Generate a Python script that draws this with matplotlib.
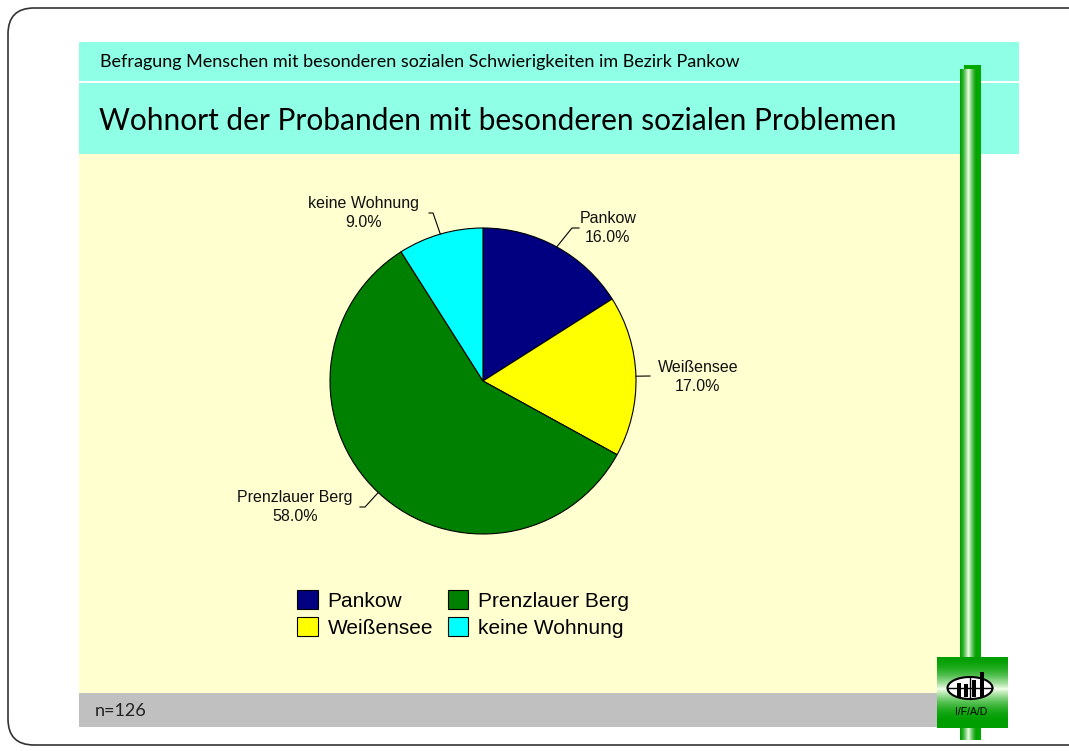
import matplotlib
matplotlib.use('Agg')
import matplotlib.pyplot as plt
import numpy as np
from matplotlib.patches import Rectangle, FancyBboxPatch, Ellipse

# data
labels = ['Pankow', 'Weißensee', 'Prenzlauer Berg', 'keine Wohnung']
shares = [16.0, 17.0, 58.0, 9.0]
colors = ['#000080', '#FFFF00', '#008000', '#00FFFF']
header = 'Befragung Menschen mit besonderen sozialen Schwierigkeiten im Bezirk Pankow'
title = 'Wohnort der Probanden mit besonderen sozialen Problemen'
footer = 'n=126'

W, H = 1069, 751
fig = plt.figure(figsize=(W / 100, H / 100), dpi=100)
ax = fig.add_axes([0, 0, 1, 1])
ax.set_xlim(0, W)
ax.set_ylim(0, H)
ax.axis('off')

def py(y):
    # pixel row -> data y
    return H - y

# slide frame
ax.add_patch(FancyBboxPatch((8, py(745)), 1100, 737, boxstyle='round,pad=0,rounding_size=26',
                            fc='white', ec='#333333', lw=1.2))

# bands
ax.add_patch(Rectangle((79, py(81)), 940, 39, fc='#8FFFE6', ec='none'))
ax.add_patch(Rectangle((79, py(154)), 940, 71, fc='#8FFFE6', ec='none'))
ax.add_patch(Rectangle((79, py(693)), 882, 539, fc='#FFFFD0', ec='none'))
ax.add_patch(Rectangle((79, py(727)), 860, 34, fc='#C0C0C0', ec='none'))

ax.text(100, py(62), header, fontsize=13, family='Lato', va='center', ha='left')
ax.text(99, py(121), title, fontsize=21.5, family='Lato', va='center', ha='left')
ax.text(95, py(711), footer, fontsize=13, family='Lato', va='center', ha='left', color='#222222')

# green bar with shading
ax.add_patch(Rectangle((964, py(740)), 17, 675, fc='#00A800', ec='none'))
g = np.linspace(0, 1, 64)
shade = 1 - np.abs(g - 0.5) * 2
dark = np.array([0.0, 0.62, 0.0])
light = np.array([0.95, 1.0, 0.92])
row = dark + (light - dark) * shade[:, None] ** 1.5
ax.imshow(row[None, :, :], extent=(960, 977, py(740), py(69)), aspect='auto', zorder=2)

# pie
cx, cy, r = 483, py(381), 153
wedges, _ = ax.pie(shares, colors=colors, startangle=90, counterclock=False,
                   center=(cx, cy), radius=r, frame=True,
                   wedgeprops=dict(edgecolor='black', linewidth=0.8))
ax.set_xlim(0, W)
ax.set_ylim(0, H)
ax.set_aspect('auto')
ax.axis('off')

# labels with leader lines: (text x, text y, elbow x, elbow y, end x)
label_pos = [(608, py(228), 572, py(228), 579),
             (698, py(377), 650, py(376), 650),
             (295, py(507), 365, py(507), 360),
             (364, py(213), 433, py(213), 429)]
for w, lab, v, (tx, ty, ex, ey, hx) in zip(wedges, labels, shares, label_pos):
    ang = np.deg2rad((w.theta1 + w.theta2) / 2)
    sx, sy = cx + r * np.cos(ang), cy + r * np.sin(ang)
    ax.plot([sx, ex, hx], [sy, ey, ey], color='black', lw=0.8, zorder=3)
    ax.text(tx, ty, f'{lab}\n{v:.1f}%', fontsize=11.5, family='Liberation Sans',
            ha='center', va='center', linespacing=1.35, color='#111111')

# legend
leg = ax.legend(wedges, labels, loc='center', bbox_to_anchor=(463 / W, 1 - 614 / H), ncol=2,
                frameon=False, prop={'family': 'Liberation Sans', 'size': 15},
                handlelength=1.0, handleheight=1.0, handletextpad=0.45, columnspacing=0.7,
                labelspacing=0.3)

# logo
logo = np.linspace(0, 1, 64)
lshade = 1 - np.abs(logo - 0.45) * 2.1
lshade = np.clip(lshade, 0, 1)
col = dark + (light - dark) * (lshade[:, None] ** 2)
ax.imshow(col[:, None, :], extent=(937, 1008, py(728), py(657)), aspect='auto', zorder=4)
ax.add_patch(Ellipse((970, py(688)), 45, 22, fc='white', ec='black', lw=1.5, zorder=5))
ax.plot([948, 992], [py(688), py(688)], color='black', lw=1, zorder=6)
ax.plot([970, 970], [py(677), py(699)], color='black', lw=1, zorder=6)
for bx, btop in zip([959, 966, 974, 982], [683, 684, 680, 672]):
    ax.add_patch(Rectangle((bx - 2.2, py(697)), 4.4, 697 - btop, fc='black', ec='none', zorder=6))
ax.text(971, py(712), 'I/F/A/D', fontsize=7.5, family='Liberation Sans', ha='center', va='center', zorder=6)

fig.savefig('out.png', dpi=100)
